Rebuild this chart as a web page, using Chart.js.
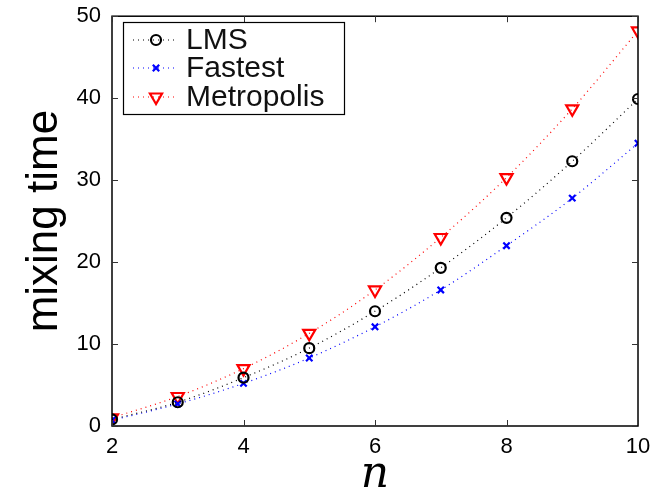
<!DOCTYPE html>
<html>
<head>
<meta charset="utf-8">
<script src="https://cdn.jsdelivr.net/npm/chart.js@4.4.0/dist/chart.umd.min.js"></script>
<style>
  html, body { margin: 0; padding: 0; background: #fff; }
  #wrap { width: 660px; height: 491px; }
</style>
</head>
<body>
<div id="wrap"><canvas id="myChart" width="660" height="491"></canvas></div>
<script>
// datos
var nValues = [2, 3, 4, 5, 6, 7, 8, 9, 10];
var lms = [0.8, 2.9, 5.9, 9.5, 14.0, 19.3, 25.4, 32.3, 39.9];
var fastest = [0.7, 2.7, 5.2, 8.3, 12.1, 16.6, 22.0, 27.8, 34.5];
var metropolis = [1.0, 3.6, 7.0, 11.3, 16.6, 23.0, 30.3, 38.7, 48.2];
var xTicks = [2, 4, 6, 8, 10];
var yTicks = [0, 10, 20, 30, 40, 50];

function pares(ys) {
    var out = [];
    for (var i = 0; i < nValues.length; i++) {
        out.push({ x: nValues[i], y: ys[i] });
    }
    return out;
}

var series = [
    { label: 'LMS', data: lms, color: '#000000', style: 'circle', radius: 5, rot: 0 },
    { label: 'Fastest', data: fastest, color: '#0000ff', style: 'crossRot', radius: 4.5, rot: 0 },
    { label: 'Metropolis', data: metropolis, color: '#ff0000', style: 'triangle', radius: 7, rot: 180 }
];

var datasets = series.map(function (s) {
    return {
        label: s.label,
        data: pares(s.data),
        borderColor: s.color,
        backgroundColor: 'rgba(0,0,0,0)',
        borderWidth: 1.2,
        borderDash: [1, 4],
        cubicInterpolationMode: 'monotone',
        pointStyle: s.style,
        pointRadius: s.radius,
        pointRotation: s.rot,
        pointBorderWidth: 2.2,
        pointBorderColor: s.color,
        pointBackgroundColor: 'rgba(0,0,0,0)'
    };
});

// ticks hacia adentro, caja y leyenda
var marcoPlugin = {
    id: 'marco',
    afterDraw: function (chart) {
        var ctx = chart.ctx;
        var a = chart.chartArea;
        var xs = chart.scales.x, ys = chart.scales.y;
        ctx.save();
        ctx.strokeStyle = '#000';
        ctx.lineWidth = 1.5;
        ctx.strokeRect(a.left, a.top, a.right - a.left, a.bottom - a.top);
        ctx.lineWidth = 1;
        ctx.strokeStyle = '#333';
        xTicks.forEach(function (v) {
            var px = Math.round(xs.getPixelForValue(v)) + 0.5;
            ctx.beginPath();
            ctx.moveTo(px, a.bottom); ctx.lineTo(px, a.bottom - 6);
            ctx.moveTo(px, a.top); ctx.lineTo(px, a.top + 6);
            ctx.stroke();
        });
        yTicks.forEach(function (v) {
            var py = Math.round(ys.getPixelForValue(v)) + 0.5;
            ctx.beginPath();
            ctx.moveTo(a.left, py); ctx.lineTo(a.left + 6, py);
            ctx.moveTo(a.right, py); ctx.lineTo(a.right - 6, py);
            ctx.stroke();
        });

        // leyenda
        var bx = 123, by = 22, bw = 221, bh = 92;
        ctx.fillStyle = '#fff';
        ctx.fillRect(bx, by, bw, bh);
        ctx.strokeStyle = '#000';
        ctx.lineWidth = 1.2;
        ctx.strokeRect(bx + 0.5, by + 0.5, bw, bh);
        var rows = [40, 68, 97];
        series.forEach(function (s, i) {
            var y = rows[i];
            ctx.save();
            ctx.strokeStyle = s.color;
            ctx.lineWidth = 1.2;
            ctx.setLineDash([1, 4]);
            ctx.beginPath();
            ctx.moveTo(133, y); ctx.lineTo(176, y);
            ctx.stroke();
            ctx.restore();
            ctx.strokeStyle = s.color;
            ctx.fillStyle = 'rgba(0,0,0,0)';
            ctx.lineWidth = 2.2;
            Chart.helpers.drawPoint(ctx, {
                pointStyle: s.style, radius: s.radius, rotation: s.rot, borderWidth: 2.2
            }, 156, y);
            ctx.fillStyle = '#111';
            ctx.font = '30px "Liberation Sans", Arial, sans-serif';
            ctx.textAlign = 'left';
            ctx.textBaseline = 'middle';
            ctx.fillText(s.label, 186, y + 1);
        });
        ctx.restore();
    }
};

new Chart(document.getElementById('myChart'), {
    type: 'line',
    data: { datasets: datasets },
    options: {
        responsive: false,
        animation: false,
        layout: { padding: { top: 14, right: 22, left: 0, bottom: 0 } },
        plugins: { legend: { display: false }, tooltip: { enabled: false } },
        scales: {
            x: {
                type: 'linear', min: 2, max: 10,
                afterBuildTicks: function (s) { s.ticks = xTicks.map(function (v) { return { value: v }; }); },
                afterFit: function (s) { s.height = 65; },
                grid: { display: false },
                border: { display: false },
                ticks: { color: '#000', font: { family: 'Liberation Sans', size: 22 }, padding: 0, maxRotation: 0 },
                title: { display: true, text: 'n', color: '#000', padding: { top: 0, bottom: -11 },
                    font: { family: 'DejaVu Serif', size: 44, style: 'italic' } }
            },
            y: {
                min: 0, max: 50,
                afterBuildTicks: function (s) { s.ticks = yTicks.map(function (v) { return { value: v }; }); },
                afterFit: function (s) { s.width = 112; },
                grid: { display: false },
                border: { display: false },
                ticks: { color: '#000', font: { family: 'Liberation Sans', size: 22 }, padding: 3 },
                title: { display: true, text: 'mixing time', color: '#000', padding: { top: 18, bottom: 4 },
                    font: { family: 'Liberation Sans', size: 44 } }
            }
        }
    },
    plugins: [marcoPlugin]
});
</script>
</body>
</html>
